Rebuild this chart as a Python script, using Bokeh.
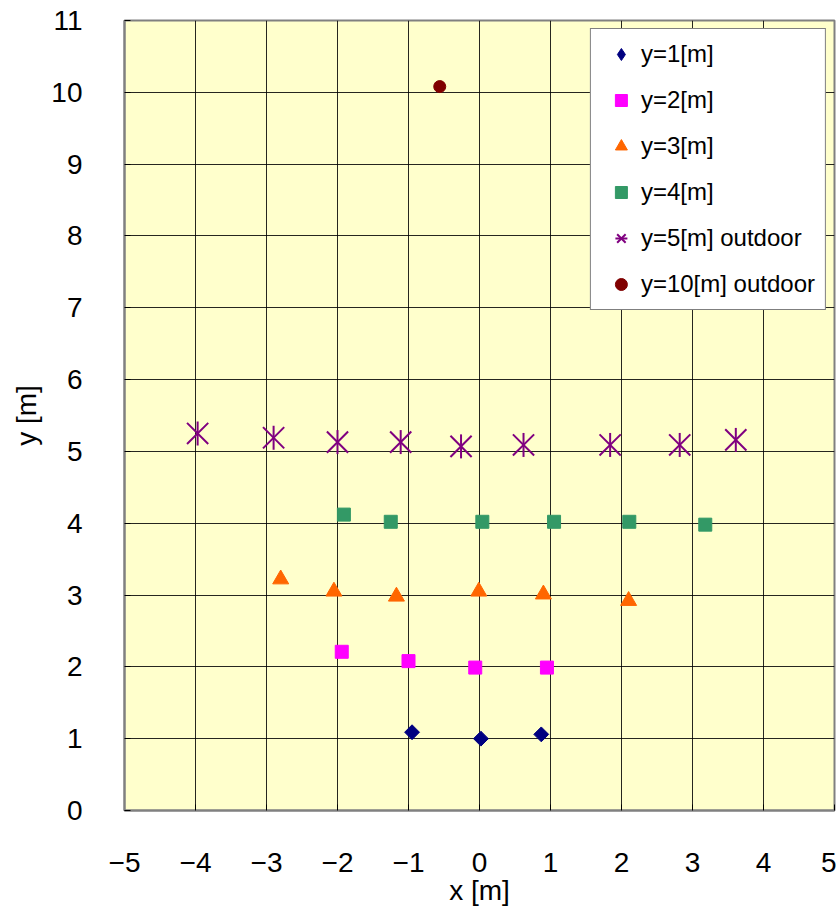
import math
from bokeh.plotting import figure
from bokeh.models import Range1d, FixedTicker, Legend, LegendItem
from bokeh.embed import file_html
from bokeh.resources import INLINE

# Measured positions [m] per row
x_y1 = [-0.95, 0.02, 0.87]
y_y1 = [1.09, 1.00, 1.06]

x_y2 = [-1.94, -1.00, -0.06, 0.95]
y_y2 = [2.21, 2.08, 1.99, 1.99]

x_y3 = [-2.80, -2.05, -1.17, -0.01, 0.90, 2.10]
y_y3 = [3.22, 3.05, 2.98, 3.05, 3.01, 2.92]

x_y4 = [-1.91, -1.25, 0.04, 1.05, 2.11, 3.18]
y_y4 = [4.12, 4.02, 4.02, 4.02, 4.02, 3.98]

x_y5 = [-3.97, -2.90, -2.00, -1.11, -0.26, 0.62, 1.84, 2.82, 3.61]
y_y5 = [5.25, 5.19, 5.13, 5.13, 5.07, 5.09, 5.09, 5.09, 5.16]

x_y10 = [-0.56]
y_y10 = [10.08]

series_names = ["y=1[m]", "y=2[m]", "y=3[m]", "y=4[m]",
                "y=5[m] outdoor", "y=10[m] outdoor"]

x_ticks = list(range(-5, 6))
x_tick_labels = ["\u22125", "\u22124", "\u22123", "\u22122", "\u22121",
                 "0", "1", "2", "3", "4", "5"]
y_ticks = list(range(0, 12))
y_tick_labels = [str(v) for v in y_ticks]

FONT = "Liberation Sans"

p = figure(width=836, height=908, output_backend="svg", toolbar_location=None,
           x_range=Range1d(-5, 5), y_range=Range1d(0, 11),
           min_border_left=124, min_border_right=2,
           min_border_top=20, min_border_bottom=97)

p.background_fill_color = "#FFFFCC"
p.border_fill_color = "white"
p.outline_line_color = "#808080"
p.outline_line_width = 2

p.xaxis.ticker = FixedTicker(ticks=x_ticks)
p.yaxis.ticker = FixedTicker(ticks=y_ticks)
p.xaxis.major_label_overrides = dict(zip(x_ticks, x_tick_labels))
p.yaxis.major_label_overrides = dict(zip(y_ticks, y_tick_labels))

for ax in (p.xaxis[0], p.yaxis[0]):
    ax.axis_line_color = "#808080"
    ax.axis_line_width = 2
    ax.major_tick_line_color = "black"
    ax.major_tick_in = 6
    ax.major_tick_out = 0
    ax.minor_tick_line_color = None
    ax.major_label_text_font = FONT
    ax.major_label_text_font_size = "28px"
    ax.major_label_text_color = "black"
    ax.axis_label_text_font = FONT
    ax.axis_label_text_font_size = "28px"
    ax.axis_label_text_font_style = "normal"
    ax.axis_label_text_color = "black"

p.xaxis.axis_label = "x [m]"
p.yaxis.axis_label = "y [m]"
p.xaxis.major_label_standoff = 42
p.yaxis.major_label_standoff = 42
p.xaxis.axis_label_standoff = 0
p.yaxis.axis_label_standoff = 6

p.xgrid.ticker = FixedTicker(ticks=x_ticks)
p.ygrid.ticker = FixedTicker(ticks=y_ticks)
p.grid.grid_line_color = "black"
p.grid.grid_line_width = 1
p.grid.grid_line_alpha = 0.85

r1 = p.scatter(x_y1, y_y1, marker="square", angle=math.pi / 4, size=10.5,
               fill_color="#000080", line_color="#000080")
# legend-only diamond (the legend draws markers unrotated)
r1_key = p.scatter([math.nan], [math.nan], marker="diamond", size=14,
                   fill_color="#000080", line_color="#000080")
r2 = p.scatter(x_y2, y_y2, marker="square", size=13, fill_color="#FF00FF",
               line_color="#FF00FF")
r3 = p.scatter(x_y3, y_y3, marker="triangle", size=16, fill_color="#FF6600",
               line_color="#FF6600")
r4 = p.scatter(x_y4, y_y4, marker="square", size=13, fill_color="#339966",
               line_color="#339966")
# six-armed star: an "x" plus a vertical stroke
r5a = p.scatter(x_y5, y_y5, marker="x", size=30, line_color="#800080",
                line_width=2)
r5b = p.scatter(x_y5, y_y5, marker="dash", angle=math.pi / 2, size=24,
                line_color="#800080", line_width=2)
r6 = p.scatter(x_y10, y_y10, marker="circle", size=12, fill_color="#800000",
               line_color="#800000")

groups = [[r1_key], [r2], [r3], [r4], [r5a, r5b], [r6]]
legend = Legend(items=[LegendItem(label=n, renderers=g)
                       for n, g in zip(series_names, groups)])
legend.location = "top_right"
legend.orientation = "vertical"
legend.background_fill_color = "white"
legend.background_fill_alpha = 1
legend.border_line_color = "black"
legend.border_line_width = 1
legend.label_text_font = FONT
legend.label_text_font_size = "24px"
legend.label_text_color = "black"
legend.glyph_width = 40
legend.glyph_height = 30
legend.label_height = 28
legend.label_standoff = 0
legend.spacing = 16
legend.padding = 10
legend.margin = 8
p.add_layout(legend)

open("out.html", "w").write(file_html(p, INLINE))
